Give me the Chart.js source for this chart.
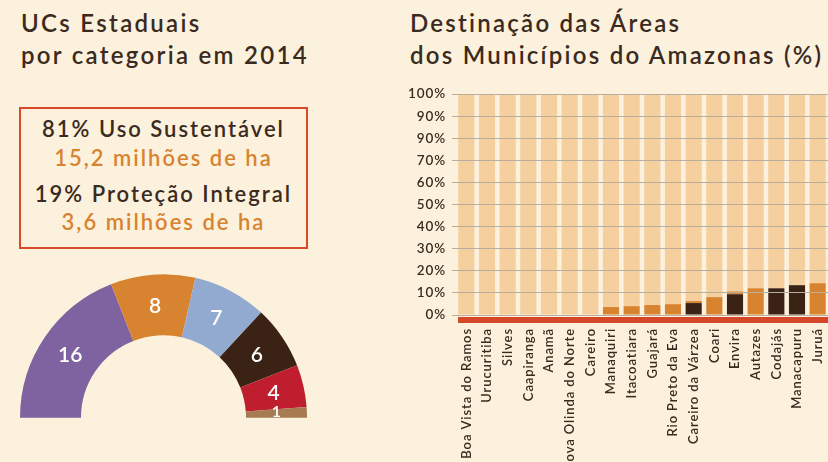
<!DOCTYPE html>
<html>
<head>
<meta charset="utf-8">
<script src="https://cdn.jsdelivr.net/npm/chart.js@4"></script>
<style>
  body { margin: 0; width: 828px; height: 462px; overflow: hidden; background: #fcf1dc; font-family: Lato, sans-serif; color: #3a2a20; position: relative; }
  .title { position: absolute; top: 7px; font-size: 24px; font-weight: 600; line-height: 32px; letter-spacing: 2.3px; white-space: nowrap; }
  .box { position: absolute; left: 19px; top: 107px; width: 285px; height: 138px; border: 2px solid #d9492a; }
  .box div { position: absolute; left: 0; width: 100%; text-align: center; font-size: 22px; font-weight: 600; line-height: 22px; letter-spacing: 2px; white-space: nowrap; }
  .orange { color: #d8832f; }
  canvas { position: absolute; }
</style>
</head>
<body>
<div class="title" style="left:21px">UCs Estaduais<br>por categoria em 2014</div>
<div class="title" style="left:410px;letter-spacing:2.25px">Destinação das Áreas<br>dos Municípios do Amazonas (%)</div>
<div class="box">
  <div style="top:9px">81% Uso Sustentável</div>
  <div class="orange" style="top:38px">15,2 milhões de ha</div>
  <div style="top:74px">19% Proteção Integral</div>
  <div class="orange" style="top:102px">3,6 milhões de ha</div>
</div>
<canvas id="donut" width="287" height="162" style="left:20px;top:274px"></canvas>
<canvas id="bars" width="428" height="400" style="left:400px;top:80px"></canvas>
<script>
// UCs por categoria (semicírculo)
const ucValues = [16, 8, 7, 6, 4, 1];
const ucColors = ["#7f63a0", "#d8832f", "#93aad0", "#3a2315", "#be1e2d", "#a67b52"];

// Destinação das áreas por município (%)
const municipios = [
    "Boa Vista do Ramos", "Urucuritiba", "Silves", "Caapiranga", "Anamã",
    "Nova Olinda do Norte", "Careiro", "Manaquiri", "Itacoatiara", "Guajará",
    "Rio Preto da Eva", "Careiro da Várzea", "Coari", "Envira", "Autazes",
    "Codajás", "Manacapuru", "Juruá",
];
const protecaoIntegral = [0, 0, 0, 0, 0, 0, 0, 0, 0, 0, 0, 5.4, 0, 9.4, 0, 12.1, 13.5, 0];
const usoSustentavel = [0, 0, 0, 0, 0, 0, 0, 3.6, 4.0, 4.5, 4.9, 0.9, 8.1, 1.3, 12.1, 0, 0, 14.4];
const restante = [100, 100, 100, 100, 100, 100, 100, 96.4, 96.0, 95.5, 95.1, 93.7, 91.9, 89.3, 87.9, 87.9, 86.5, 85.6];
const yTickLabels = ["0%", "10%", "20%", "30%", "40%", "50%", "60%", "70%", "90%", "90%", "100%"];

const textDark = "#3a2a20";

// white numbers inside the arcs
const arcLabels = {
    id: "arcLabels",
    afterDatasetsDraw(chart) {
        const ctx = chart.ctx;
        const meta = chart.getDatasetMeta(0);
        ctx.save();
        ctx.fillStyle = "#ffffff";
        ctx.textAlign = "center";
        ctx.textBaseline = "alphabetic";
        meta.data.forEach((arc, i) => {
            const p = arc.tooltipPosition();
            const v = chart.data.datasets[0].data[i];
            const size = v < 2 ? 16 : 21;
            ctx.font = "600 " + size + "px Lato";
            const base = Math.min(p.y + size * 0.36, chart.chartArea.bottom - 1);
            ctx.fillText(String(v), p.x, base);
        });
        ctx.restore();
    },
};

new Chart(document.getElementById("donut"), {
    type: "doughnut",
    data: {
        labels: ucValues.map(String),
        datasets: [{ data: ucValues, backgroundColor: ucColors, borderWidth: 0 }],
    },
    options: {
        responsive: false,
        animation: false,
        devicePixelRatio: 1,
        rotation: -90,
        circumference: 180,
        cutout: "57.5%",
        layout: { padding: { bottom: 18 } },
        plugins: { legend: { display: false }, tooltip: { enabled: false } },
    },
    plugins: [arcLabels],
});

// spacing for canvas text + red base strip under the bars
const barExtras = {
    id: "barExtras",
    beforeUpdate(chart) {
        chart.ctx.letterSpacing = "0.9px";
    },
    beforeDraw(chart) {
        chart.ctx.letterSpacing = "0.9px";
    },
    afterDraw(chart) {
        const { ctx, chartArea } = chart;
        ctx.save();
        ctx.fillStyle = "#d6472a";
        ctx.fillRect(chartArea.left + 2, chartArea.bottom + 2, chartArea.right - chartArea.left, 6);
        ctx.restore();
    },
};

new Chart(document.getElementById("bars"), {
    type: "bar",
    data: {
        labels: municipios,
        datasets: [
            { label: "Proteção Integral", data: protecaoIntegral, backgroundColor: "#3a2315" },
            { label: "Uso Sustentável", data: usoSustentavel, backgroundColor: "#d8832f" },
            { label: "Restante", data: restante, backgroundColor: "#f5cf9e" },
        ],
    },
    options: {
        responsive: false,
        animation: false,
        devicePixelRatio: 1,
        layout: { padding: { top: 12, right: 0, left: 0, bottom: 0 } },
        datasets: { bar: { barPercentage: 0.78, categoryPercentage: 1 } },
        plugins: { legend: { display: false }, tooltip: { enabled: false } },
        scales: {
            x: {
                stacked: true,
                grid: { display: false, drawTicks: false },
                border: { display: false },
                ticks: {
                    autoSkip: false,
                    minRotation: 90,
                    maxRotation: 90,
                    padding: 13,
                    color: textDark,
                    font: { family: "Lato", size: 13, weight: "600" },
                },
                afterFit(scale) {
                    scale.height = 165;
                    scale.paddingLeft = 0;
                    scale.paddingRight = 0;
                },
            },
            y: {
                stacked: true,
                min: 0,
                max: 100,
                border: { display: false },
                grid: { z: 1, color: "#b8ae9e", lineWidth: 1, borderDash: [2, 2], tickLength: 4 },
                ticks: {
                    stepSize: 10,
                    padding: 6,
                    color: textDark,
                    font: { family: "Lato", size: 13.5, weight: "600" },
                    callback: (v) => yTickLabels[Math.round(v / 10)],
                },
                afterFit(scale) { scale.width = 56; },
            },
        },
    },
    plugins: [barExtras],
});
</script>
</body>
</html>
